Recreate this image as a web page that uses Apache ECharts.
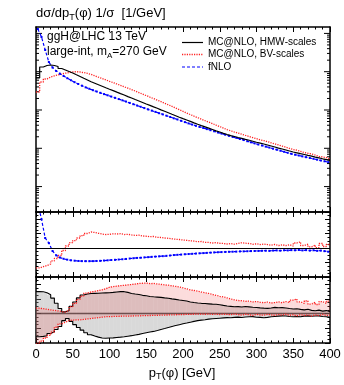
<!DOCTYPE html>
<html><head><meta charset="utf-8">
<script src="https://cdn.jsdelivr.net/npm/echarts@6/dist/echarts.min.js"></script>
<style>html,body{margin:0;padding:0;background:#fff}#c{width:344px;height:385px}</style>
</head><body><div id="c"></div>
<script>
// ---- bins (pT lower edges, GeV) ----
const binW = 5;
const binLo = Array.from({length: 80}, (_, i) => i * binW);
const xTickLabels = ['0','50','100','150','200','250','300','350','400'];

// ---- main panel: dsigma/dpT 1/sigma [1/GeV] ----
const mainHMW = [6.85e-3,1.327e-2,1.451e-2,1.496e-2,1.451e-2,1.367e-2,1.212e-2,1.108e-2,1.012e-2,9.25e-3,
 8.30e-3,7.49e-3,6.73e-3,6.07e-3,5.45e-3,4.98e-3,4.55e-3,4.16e-3,3.80e-3,3.49e-3,
 3.21e-3,2.93e-3,2.68e-3,2.46e-3,2.24e-3,2.06e-3,1.88e-3,1.72e-3,1.57e-3,1.43e-3,
 1.32e-3,1.205e-3,1.108e-3,1.006e-3,9.25e-4,8.45e-4,7.72e-4,7.10e-4,6.49e-4,5.96e-4,
 5.48e-4,5.04e-4,4.61e-4,4.23e-4,3.91e-4,3.62e-4,3.35e-4,3.10e-4,2.86e-4,2.66e-4,
 2.46e-4,2.29e-4,2.15e-4,2.03e-4,1.91e-4,1.81e-4,1.71e-4,1.62e-4,1.53e-4,1.44e-4,
 1.37e-4,1.295e-4,1.22e-4,1.148e-4,1.081e-4,1.012e-4,9.59e-5,9.03e-5,8.50e-5,8.00e-5,
 7.63e-5,7.23e-5,6.89e-5,6.53e-5,6.22e-5,5.89e-5,5.61e-5,5.32e-5,5.07e-5,4.83e-5];
const mainBV = [2.95e-3,5.38e-3,6.45e-3,7.27e-3,7.82e-3,8.20e-3,8.71e-3,9.14e-3,9.53e-3,9.88e-3,
 1.0e-2,9.82e-3,9.47e-3,9.03e-3,8.50e-3,7.82e-3,7.18e-3,6.65e-3,6.11e-3,5.61e-3,
 5.19e-3,4.77e-3,4.39e-3,4.03e-3,3.71e-3,3.41e-3,3.12e-3,2.85e-3,2.60e-3,2.38e-3,
 2.17e-3,1.985e-3,1.81e-3,1.66e-3,1.505e-3,1.367e-3,1.242e-3,1.121e-3,1.018e-3,9.25e-4,
 8.35e-4,7.59e-4,6.89e-4,6.30e-4,5.75e-4,5.26e-4,4.83e-4,4.42e-4,4.03e-4,3.69e-4,
 3.37e-4,3.08e-4,2.86e-4,2.66e-4,2.49e-4,2.33e-4,2.17e-4,2.03e-4,1.90e-4,1.78e-4,
 1.66e-4,1.59e-4,1.49e-4,1.39e-4,1.30e-4,1.22e-4,1.141e-4,1.068e-4,9.94e-5,9.30e-5,
 8.90e-5,8.30e-5,7.70e-5,7.41e-5,7.15e-5,6.65e-5,6.15e-5,5.93e-5,5.75e-5,5.20e-5];
const mainFNLO = [0.1303,8.05e-2,3.69e-2,1.79e-2,1.287e-2,1.043e-2,8.87e-3,7.72e-3,6.77e-3,6.00e-3,
 5.32e-3,4.77e-3,4.31e-3,3.91e-3,3.58e-3,3.29e-3,3.04e-3,2.81e-3,2.60e-3,2.42e-3,
 2.24e-3,2.08e-3,1.93e-3,1.79e-3,1.66e-3,1.53e-3,1.417e-3,1.31e-3,1.212e-3,1.121e-3,
 1.037e-3,9.65e-4,8.92e-4,8.25e-4,7.68e-4,7.10e-4,6.57e-4,6.07e-4,5.65e-4,5.22e-4,
 4.83e-4,4.47e-4,4.16e-4,3.87e-4,3.62e-4,3.39e-4,3.17e-4,2.97e-4,2.78e-4,2.59e-4,
 2.42e-4,2.26e-4,2.12e-4,1.985e-4,1.87e-4,1.75e-4,1.64e-4,1.53e-4,1.435e-4,1.343e-4,
 1.257e-4,1.183e-4,1.108e-4,1.043e-4,9.76e-5,9.19e-5,8.66e-5,8.10e-5,7.63e-5,7.18e-5,
 6.81e-5,6.49e-5,6.14e-5,5.86e-5,5.58e-5,5.32e-5,5.04e-5,4.80e-5,4.58e-5,4.36e-5];
const logTickVals = [3e-6,4e-6,5e-6,6e-6,7e-6,8e-6,9e-6,
 1e-5,2e-5,3e-5,4e-5,5e-5,6e-5,7e-5,8e-5,9e-5,
 1e-4,2e-4,3e-4,4e-4,5e-4,6e-4,7e-4,8e-4,9e-4,
 1e-3,2e-3,3e-3,4e-3,5e-3,6e-3,7e-3,8e-3,9e-3,
 1e-2,2e-2,3e-2,4e-2,5e-2,6e-2,7e-2,8e-2,9e-2,1e-1];

// ---- middle panel: ratios ----
const ratioFNLO = [1.62,1.40,1.14,1.07,0.96,0.90,0.87,0.852,0.840,0.831,
 0.826,0.822,0.820,0.819,0.819,0.820,0.822,0.824,0.828,0.831,
 0.835,0.838,0.842,0.846,0.850,0.856,0.860,0.864,0.867,0.871,
 0.875,0.879,0.883,0.886,0.889,0.893,0.898,0.904,0.907,0.911,
 0.915,0.918,0.921,0.925,0.928,0.931,0.934,0.938,0.940,0.943,
 0.945,0.947,0.949,0.950,0.952,0.954,0.955,0.957,0.959,0.960,
 0.961,0.963,0.964,0.962,0.966,0.968,0.965,0.970,0.968,0.972,
 0.970,0.974,0.968,0.972,0.966,0.970,0.962,0.966,0.958,0.950];
const ratioBV = [0.725,0.743,0.759,0.780,0.822,0.856,0.898,0.967,1.029,1.075,
 1.105,1.140,1.172,1.202,1.223,1.216,1.205,1.195,1.188,1.191,
 1.198,1.195,1.200,1.188,1.191,1.182,1.176,1.179,1.168,1.164,
 1.159,1.161,1.150,1.147,1.140,1.136,1.129,1.123,1.119,1.112,
 1.108,1.101,1.098,1.089,1.092,1.080,1.078,1.071,1.076,1.067,
 1.064,1.057,1.062,1.054,1.065,1.074,1.068,1.064,1.053,1.060,
 1.049,1.057,1.049,1.040,1.050,1.036,1.046,1.035,1.047,1.029,
 1.071,1.087,1.036,1.054,1.018,1.043,1.008,1.064,1.022,1.050];

// ---- bottom panel: scale-variation bands ----
const hmwUp = [1.300,1.298,1.285,1.258,1.212,1.142,1.070,1.025,1.040,1.100,
 1.160,1.215,1.255,1.268,1.275,1.277,1.279,1.282,1.284,1.286,
 1.290,1.296,1.300,1.300,1.290,1.276,1.268,1.262,1.250,1.244,
 1.235,1.230,1.226,1.222,1.215,1.210,1.202,1.195,1.186,1.180,
 1.172,1.160,1.152,1.146,1.141,1.138,1.134,1.130,1.128,1.122,
 1.113,1.105,1.100,1.095,1.096,1.090,1.097,1.093,1.088,1.084,
 1.079,1.075,1.072,1.078,1.086,1.080,1.082,1.077,1.070,1.064,
 1.066,1.058,1.052,1.060,1.045,1.040,1.048,1.035,1.042,1.027];
const hmwLo = [0.686,0.690,0.700,0.730,0.752,0.785,0.825,0.905,0.935,0.895,
 0.850,0.812,0.775,0.740,0.712,0.695,0.680,0.668,0.664,0.668,
 0.670,0.675,0.680,0.686,0.693,0.700,0.709,0.718,0.730,0.740,
 0.750,0.758,0.770,0.785,0.798,0.812,0.825,0.838,0.850,0.862,
 0.872,0.884,0.895,0.905,0.912,0.918,0.925,0.930,0.934,0.938,
 0.942,0.946,0.944,0.950,0.953,0.948,0.955,0.958,0.960,0.952,
 0.950,0.945,0.950,0.958,0.962,0.966,0.970,0.968,0.962,0.958,
 0.962,0.958,0.966,0.970,0.965,0.968,0.970,0.962,0.958,0.950];
const bvUp = [1.075,1.068,1.060,1.052,1.045,1.038,1.028,1.022,1.045,1.095,
 1.140,1.195,1.240,1.280,1.296,1.305,1.315,1.325,1.340,1.360,
 1.370,1.375,1.382,1.386,1.392,1.398,1.404,1.412,1.415,1.418,
 1.410,1.412,1.405,1.400,1.392,1.388,1.380,1.372,1.365,1.352,
 1.338,1.325,1.316,1.305,1.295,1.285,1.276,1.262,1.250,1.236,
 1.228,1.215,1.200,1.188,1.180,1.176,1.168,1.172,1.160,1.166,
 1.155,1.150,1.158,1.145,1.152,1.160,1.148,1.165,1.150,1.185,
 1.200,1.160,1.140,1.175,1.130,1.155,1.125,1.165,1.140,1.170];
const bvLo = [0.590,0.625,0.668,0.705,0.748,0.815,0.860,0.885,0.905,0.912,
 0.914,0.916,0.922,0.928,0.934,0.940,0.946,0.952,0.958,0.960,
 0.962,0.963,0.965,0.966,0.967,0.968,0.969,0.970,0.972,0.973,
 0.975,0.976,0.978,0.979,0.981,0.982,0.984,0.985,0.987,0.988,
 0.990,0.991,0.993,0.994,0.995,0.992,0.996,0.990,0.995,0.988,
 0.994,0.990,0.985,0.995,0.988,0.980,0.992,0.985,0.975,0.990,
 0.982,0.978,0.990,0.984,0.975,0.988,0.980,0.992,0.978,0.985,
 0.970,0.988,0.975,0.982,0.968,0.985,0.972,0.990,0.975,0.980];
const refLevel = 1;

// ---- helpers ----
const FONT = 'Liberation Sans, Arial, sans-serif';
const xMax = binLo[binLo.length - 1] + binW;
function stepPts(vals) {
  const d = vals.map((v, i) => [binLo[i], v]);
  d.push([xMax, vals[vals.length - 1]]);
  return d;
}
function centerPts(vals) { return vals.map((v, i) => [binLo[i] + binW / 2, v]); }
function bandData(lo, up) { return lo.map((v, i) => [binLo[i], binLo[i] + binW, v, up[i]]); }

const axisLine = {show: true, onZero: false, lineStyle: {color: '#000', width: 1.5}};
function xAx(grid, pos, labels) {
  return {type: 'value', gridIndex: grid, position: pos, min: 0, max: xMax, interval: 50,
    axisLine: axisLine,
    axisTick: {show: true, inside: true, length: 5, lineStyle: {color: '#000', width: 1}},
    minorTick: {show: true, splitNumber: 5, length: 2.5, lineStyle: {color: '#000', width: 1}},
    splitLine: {show: false}, minorSplitLine: {show: false},
    axisLabel: labels ? {show: true, color: '#000', fontSize: 13, fontFamily: FONT, margin: 5,
      formatter: (v) => xTickLabels[Math.round(v / 50)]} : {show: false}};
}
function rAx(grid, pos) {
  return {type: 'value', gridIndex: grid, position: pos, min: 0.6, max: 1.5, interval: 0.2,
    axisLine: axisLine,
    axisTick: {show: true, inside: true, length: 5, lineStyle: {color: '#000', width: 1}},
    minorTick: {show: true, splitNumber: 4, length: 2.5, lineStyle: {color: '#000', width: 1}},
    splitLine: {show: false}, minorSplitLine: {show: false}, axisLabel: {show: false}};
}
function lAx(pos) {
  return {type: 'log', logBase: 10, gridIndex: 0, position: pos, min: 2.17e-6, max: 0.147,
    axisLine: axisLine, axisTick: {show: false}, minorTick: {show: false},
    splitLine: {show: false}, axisLabel: {show: false}};
}
function bandRender(color) {
  return function (params, api) {
    const p0 = api.coord([api.value(0), api.value(3)]);
    const p1 = api.coord([api.value(1), api.value(2)]);
    return {type: 'rect', shape: {x: p0[0], y: p0[1], width: p1[0] - p0[0], height: p1[1] - p0[1]},
      style: {fill: color}};
  };
}
const redDot = [1.2, 1.2];
const blueDash = [3, 2];

const chart = echarts.init(document.getElementById('c'), null, {renderer: 'canvas'});
chart.setOption({
  animation: false,
  backgroundColor: '#fff',
  grid: [
    {left: 36, top: 27, width: 294, height: 185},
    {left: 36, top: 212, width: 294, height: 65},
    {left: 36, top: 277, width: 294, height: 66}
  ],
  xAxis: [xAx(0, 'bottom', false), xAx(0, 'top', false), xAx(1, 'bottom', false), xAx(1, 'top', false),
          xAx(2, 'bottom', true), xAx(2, 'top', false)],
  yAxis: [lAx('left'), lAx('right'), rAx(1, 'left'), rAx(1, 'right'), rAx(2, 'left'), rAx(2, 'right')],
  series: [
    // main panel
    {type: 'custom', xAxisIndex: 0, yAxisIndex: 0, silent: true, clip: true,
      data: logTickVals.map(v => [0, v]), encode: {x: 0, y: 1},
      renderItem: function (params, api) {
        const v = api.value(1);
        const p = api.coord([0, v]), q = api.coord([xMax, v]);
        const lg = Math.log10(v);
        const L = Math.abs(lg - Math.round(lg)) < 1e-6 ? 6 : 3;
        const st = {stroke: '#000', lineWidth: 1};
        return {type: 'group', children: [
          {type: 'line', shape: {x1: p[0], y1: p[1], x2: p[0] + L, y2: p[1]}, style: st},
          {type: 'line', shape: {x1: q[0] - L, y1: q[1], x2: q[0], y2: q[1]}, style: st}]};
      }},
    {type: 'line', xAxisIndex: 0, yAxisIndex: 0, data: stepPts(mainBV), step: 'end', symbol: 'none',
      lineStyle: {color: '#ff2020', width: 1.3, type: redDot}, z: 3},
    {type: 'line', xAxisIndex: 0, yAxisIndex: 0, data: centerPts(mainFNLO), symbol: 'rect', symbolSize: 2,
      itemStyle: {color: '#0000ff'}, lineStyle: {color: '#0000ff', width: 1.2, type: blueDash}, z: 4},
    {type: 'line', xAxisIndex: 0, yAxisIndex: 0, data: stepPts(mainHMW), step: 'end', symbol: 'none',
      lineStyle: {color: '#000', width: 1.2}, z: 5},
    // middle panel
    {type: 'line', xAxisIndex: 2, yAxisIndex: 2, data: stepPts(ratioBV), step: 'end', symbol: 'none',
      lineStyle: {color: '#ff2020', width: 1.3, type: redDot}, z: 3,
      markLine: {silent: true, symbol: 'none', label: {show: false}, animation: false,
        lineStyle: {color: '#000', width: 1, type: 'solid'}, data: [{yAxis: refLevel}]}},
    {type: 'line', xAxisIndex: 2, yAxisIndex: 2, data: centerPts(ratioFNLO), symbol: 'rect', symbolSize: 2,
      itemStyle: {color: '#0000ff'}, lineStyle: {color: '#0000ff', width: 1.2, type: blueDash}, z: 4},
    // bottom panel
    {type: 'custom', xAxisIndex: 4, yAxisIndex: 4, silent: true, clip: true, z: 1,
      data: bandData(hmwLo, hmwUp), encode: {x: [0, 1], y: [2, 3]}, renderItem: bandRender('rgba(150,150,150,0.36)')},
    {type: 'custom', xAxisIndex: 4, yAxisIndex: 4, silent: true, clip: true, z: 2,
      data: bandData(bvLo, bvUp), encode: {x: [0, 1], y: [2, 3]}, renderItem: bandRender('rgba(240,80,80,0.2)')},
    {type: 'line', xAxisIndex: 4, yAxisIndex: 4, data: stepPts(hmwUp), step: 'end', symbol: 'none',
      lineStyle: {color: '#000', width: 1.1}, z: 5,
      markLine: {silent: true, symbol: 'none', label: {show: false}, animation: false,
        lineStyle: {color: 'rgba(90,60,60,0.85)', width: 1.3, type: 'solid'}, data: [{yAxis: refLevel}]}},
    {type: 'line', xAxisIndex: 4, yAxisIndex: 4, data: stepPts(hmwLo), step: 'end', symbol: 'none',
      lineStyle: {color: '#000', width: 1.1}, z: 5},
    {type: 'line', xAxisIndex: 4, yAxisIndex: 4, data: stepPts(bvUp), step: 'end', symbol: 'none',
      lineStyle: {color: '#ff2020', width: 1.3, type: redDot}, z: 6},
    {type: 'line', xAxisIndex: 4, yAxisIndex: 4, data: stepPts(bvLo), step: 'end', symbol: 'none',
      lineStyle: {color: '#ff2020', width: 1.3, type: redDot}, z: 6}
  ],
  graphic: [
    {type: 'text', left: 36, top: 7, style: {text: '{a|dσ/dp}{s|T}{a|(φ) 1/σ  [1/GeV]}', fill: '#000',
      rich: {a: {fontSize: 13, fontFamily: FONT, lineHeight: 17, fill: '#000'},
             s: {fontSize: 9, fontFamily: FONT, lineHeight: 10, verticalAlign: 'bottom', fill: '#000'}}}},
    {type: 'text', x: 47, y: 37, style: {text: 'ggH@LHC 13 TeV', font: '12px ' + FONT, fill: '#000', verticalAlign: 'middle'}},
    {type: 'text', x: 47, y: 52, style: {text: '{a|large-int, m}{s|A}{a|=270 GeV}', verticalAlign: 'middle', fill: '#000',
      rich: {a: {fontSize: 12, fontFamily: FONT, lineHeight: 15, fill: '#000'},
             s: {fontSize: 8, fontFamily: FONT, lineHeight: 9, verticalAlign: 'bottom', fill: '#000'}}}},
    {type: 'line', shape: {x1: 182, y1: 42.5, x2: 203, y2: 42.5}, style: {stroke: '#000', lineWidth: 1.2}},
    {type: 'line', shape: {x1: 182, y1: 54.5, x2: 203, y2: 54.5}, style: {stroke: '#ff2020', lineWidth: 1.3, lineDash: redDot}},
    {type: 'line', shape: {x1: 182, y1: 67, x2: 203, y2: 67}, style: {stroke: '#0000ff', lineWidth: 1.2, lineDash: blueDash}},
    {type: 'text', x: 208, y: 42.5, style: {text: 'MC@NLO, HMW-scales', font: '10px ' + FONT, fill: '#000', verticalAlign: 'middle'}},
    {type: 'text', x: 208, y: 54.5, style: {text: 'MC@NLO, BV-scales', font: '10px ' + FONT, fill: '#000', verticalAlign: 'middle'}},
    {type: 'text', x: 208, y: 67, style: {text: 'fNLO', font: '10px ' + FONT, fill: '#000', verticalAlign: 'middle'}},
    {type: 'text', x: 182, y: 373, style: {text: '{a|p}{s|T}{a|(φ) [GeV]}', align: 'center', verticalAlign: 'middle', fill: '#000',
      rich: {a: {fontSize: 13, fontFamily: FONT, lineHeight: 17, fill: '#000'},
             s: {fontSize: 9, fontFamily: FONT, lineHeight: 10, verticalAlign: 'bottom', fill: '#000'}}}}
  ]
});
</script>
</body></html>
